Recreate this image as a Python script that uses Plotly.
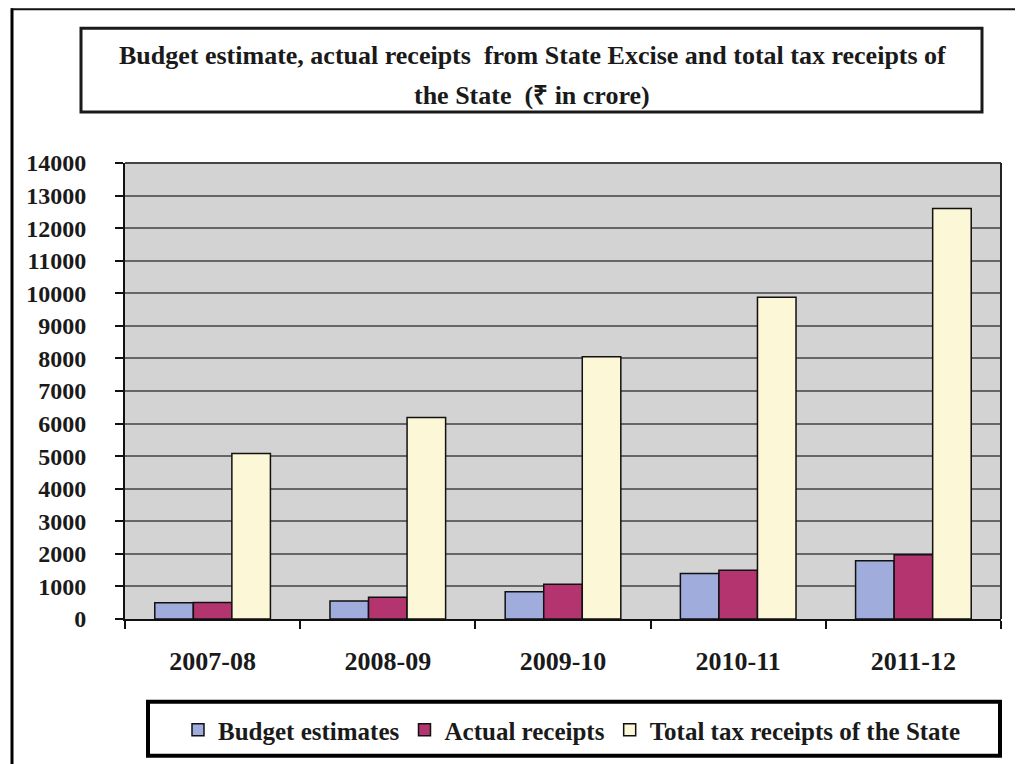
import plotly.graph_objects as go

years = ["2007-08", "2008-09", "2009-10", "2010-11", "2011-12"]
budget_estimates = [500, 550, 840, 1400, 1790]
actual_receipts = [505, 670, 1065, 1500, 1970]
total_tax_receipts = [5080, 6190, 8050, 9880, 12600]
y_ticks = list(range(0, 14001, 1000))
y_tick_labels = [str(v) for v in y_ticks]

FONT = "Liberation Serif"
OFF = 8  # page body margin
W, H = 1023 - OFF, 764 - OFF
# plot area in page pixels: x 125..1001, y 163..620
L, R, T, B = 125 - OFF, 1023 - 1001, 163 - OFF, 764 - 620
PW, PH = W - L - R, H - T - B


def px(x):
    # page pixel x -> paper
    return (x - OFF - L) / PW


def py(y):
    # page pixel y -> paper
    return (H - B - (y - OFF)) / PH


fig = go.Figure()
series = [
    ("Budget estimates", budget_estimates, "#A0ACDC"),
    ("Actual receipts", actual_receipts, "#B43470"),
    ("Total tax receipts of the State", total_tax_receipts, "#FBF7D7"),
]
for name, vals, col in series:
    fig.add_trace(go.Bar(
        x=years, y=vals, name=name,
        marker=dict(color=col, line=dict(color="#111111", width=1.5)),
    ))

fig.update_layout(
    width=W, height=H,
    margin=dict(l=L, r=R, t=T, b=B, pad=0),
    paper_bgcolor="white",
    plot_bgcolor="#D3D3D3",
    barmode="group", bargap=0.34, bargroupgap=0,
    font=dict(family=FONT, color="#1a1a1a"),
    showlegend=True,
    legend=dict(
        orientation="h", x=px(178), xanchor="left", y=py(730), yanchor="middle",
        font=dict(family=FONT, size=25, color="#1a1a1a", weight="bold"),
        bgcolor="rgba(0,0,0,0)", borderwidth=0,
        itemwidth=30, traceorder="normal",
    ),
)

fig.update_xaxes(
    type="category", showline=True, linecolor="#111111", linewidth=2,
    ticks="outside", tickson="boundaries", ticklen=8, tickwidth=2, tickcolor="#111111",
    tickfont=dict(family=FONT, size=26, color="#1a1a1a", weight="bold"),
    ticklabelstandoff=18, showgrid=False,
)
fig.update_yaxes(
    range=[0, 14000], tickvals=y_ticks, ticktext=y_tick_labels,
    showline=True, linecolor="#111111", linewidth=2,
    ticks="outside", ticklen=8, tickwidth=2, tickcolor="#111111",
    tickfont=dict(family=FONT, size=24, color="#1a1a1a", weight="bold"),
    ticklabelstandoff=24,
    showgrid=True, gridcolor="#666666", gridwidth=2, zeroline=False,
)

shapes = [
    dict(type="line", xref="paper", yref="paper", x0=0, x1=1, y0=1, y1=1,
         line=dict(color="#444444", width=2)),
    dict(type="line", xref="paper", yref="paper", x0=1, x1=1, y0=0, y1=1,
         line=dict(color="#222222", width=2)),
    dict(type="line", xref="paper", yref="paper", x0=px(12), x1=px(12), y0=py(770), y1=py(8),
         line=dict(color="#000000", width=3)),
    dict(type="line", xref="paper", yref="paper", x0=px(11), x1=px(1018), y0=py(9), y1=py(9),
         line=dict(color="#111111", width=2)),
    dict(type="line", xref="paper", yref="paper", x0=px(1018), x1=px(1018), y0=py(770), y1=py(9),
         line=dict(color="#BBBBBB", width=1)),
    dict(type="rect", xref="paper", yref="paper", x0=px(81), x1=px(982), y0=py(112), y1=py(28),
         line=dict(color="#1a1a1a", width=3), fillcolor="white", layer="below"),
    dict(type="rect", xref="paper", yref="paper", x0=px(148), x1=px(1000), y0=py(757), y1=py(703),
         line=dict(color="#000000", width=4), fillcolor="rgba(0,0,0,0)"),
]
fig.update_layout(shapes=shapes)

fig.add_annotation(
    xref="paper", yref="paper", x=px(532), y=py(55), xanchor="center", yanchor="middle",
    text="Budget estimate, actual receipts  from State Excise and total tax receipts of",
    showarrow=False, font=dict(family=FONT, size=26, color="#1a1a1a", weight="bold"),
)
fig.add_annotation(
    xref="paper", yref="paper", x=px(532), y=py(95), xanchor="center", yanchor="middle",
    text="the State  (₹ in crore)",
    showarrow=False, font=dict(family=FONT, size=26, color="#1a1a1a", weight="bold"),
)

fig.write_html("out.html")
